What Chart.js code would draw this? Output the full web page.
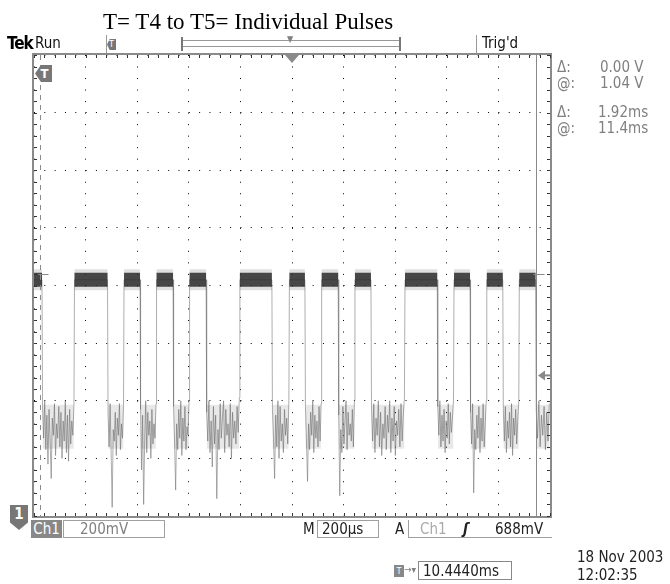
<!DOCTYPE html>
<html>
<head>
<meta charset="utf-8">
<script src="https://cdn.jsdelivr.net/npm/chart.js@4/dist/chart.umd.min.js"></script>
<style>
  body{margin:0;background:#fff;}
  #wrap{position:relative;width:670px;height:584px;overflow:hidden;background:#fff;}
  #c{position:absolute;left:0;top:0;}
  .t{position:absolute;white-space:nowrap;font-family:"DejaVu Sans Condensed","Liberation Sans Narrow","DejaVu Sans",sans-serif;font-stretch:condensed;font-size:15px;line-height:16px;color:#222;}
  .g{color:#808080;}
  .box{position:absolute;border:1px solid #a0a0a0;box-sizing:border-box;}
  .ln{position:absolute;background:#999;}
</style>
</head>
<body>
<div id="wrap">
  <canvas id="c" width="670" height="584"></canvas>

  <div class="t" style="left:103px;top:9px;font:23px 'Liberation Serif','Times New Roman',serif;color:#000;">T= T4 to T5= Individual Pulses</div>

  <div class="t" style="left:7px;top:35px;font-weight:bold;font-size:17px;letter-spacing:-1px;color:#000;">Tek</div>
  <div class="t" style="left:35px;top:35px;color:#111;">Run</div>
  <div class="ln" style="left:106px;top:35px;width:1px;height:18px;"></div>
  <div class="t" style="left:107px;top:39px;width:9px;height:11px;background:#777;color:#fff;font-size:9px;line-height:11px;text-align:center;clip-path:polygon(30% 0,100% 0,100% 100%,30% 100%,0 50%);">T</div>
  <div class="box" style="left:181px;top:40px;width:220px;height:7px;border-color:#999;"></div>
  <div class="ln" style="left:181px;top:37px;width:2px;height:14px;background:#777;"></div>
  <div class="ln" style="left:399px;top:37px;width:2px;height:14px;background:#777;"></div>
  <div class="t g" style="left:287px;top:31px;font-size:9px;">&#9660;</div>
  <div class="ln" style="left:476px;top:35px;width:1px;height:18px;"></div>
  <div class="t" style="left:482px;top:35px;color:#111;">Trig'd</div>

  <div class="t g" style="left:557px;top:59px;">&#916;:</div>
  <div class="t g" style="left:600px;top:59px;">0.00 V</div>
  <div class="t g" style="left:557px;top:75px;">@:</div>
  <div class="t g" style="left:600px;top:75px;">1.04 V</div>
  <div class="t g" style="left:557px;top:104px;">&#916;:</div>
  <div class="t g" style="left:598px;top:104px;">1.92ms</div>
  <div class="t g" style="left:557px;top:120px;">@:</div>
  <div class="t g" style="left:598px;top:120px;">11.4ms</div>

  <div class="t" style="left:35px;top:65px;width:17px;height:17px;background:#777;color:#fff;font-weight:bold;font-size:13px;line-height:17px;text-align:center;padding-left:2px;box-sizing:border-box;clip-path:polygon(35% 0,100% 0,100% 100%,35% 100%,0 50%);">T</div>

  <div class="t" style="left:10px;top:505px;width:18px;height:25px;background:#777;color:#fff;font-weight:bold;font-size:15px;line-height:18px;text-align:center;clip-path:polygon(0 0,100% 0,100% 70%,50% 100%,0 70%);">1</div>
  <div class="t" style="left:31px;top:520px;width:31px;height:18px;background:#888;color:#fff;font-size:15px;line-height:18px;text-align:center;">Ch1</div>
  <div class="box" style="left:63px;top:520px;width:102px;height:18px;"></div>
  <div class="t g" style="left:80px;top:521px;">200mV</div>

  <div class="t" style="left:303px;top:521px;">M</div>
  <div class="box" style="left:317px;top:520px;width:62px;height:18px;"></div>
  <div class="t" style="left:322px;top:521px;">200&#181;s</div>
  <div class="t" style="left:395px;top:521px;">A</div>
  <div class="box" style="left:408px;top:520px;width:144px;height:18px;border-top:none;border-right:none;"></div>
  <div class="t" style="left:420px;top:521px;color:#aaa;">Ch1</div>
  <div class="t" style="left:463px;top:521px;font-weight:bold;font-style:italic;">&#643;</div>
  <div class="t" style="left:495px;top:521px;">688mV</div>

  <div class="t" style="left:394px;top:565px;width:10px;height:12px;background:#888;color:#fff;font-size:9px;line-height:12px;text-align:center;">T</div>
  <div class="t g" style="left:404px;top:562px;font-size:10px;">&#8594;&#9662;</div>
  <div class="box" style="left:418px;top:561px;width:94px;height:19px;border-color:#888;"></div>
  <div class="t" style="left:423px;top:563px;">10.4440ms</div>
  <div class="t" style="left:577px;top:549px;">18 Nov 2003</div>
  <div class="t" style="left:577px;top:567px;">12:02:35</div>
</div>
<script>
// time in microseconds (200us/div), voltage in mV (200mV/div)
const timeMin = 0, timeMax = 2000, timeStep = 200;
const voltMin = 200, voltMax = 1800, voltStep = 200;

const highLevel = 1020;
const lowLevel = 510;
// transitions, alternating fall / rise, starting with a fall
const edgeTimes = [31,157,285,349,411,475,539,603,667,798,922,990,1050,1115,1179,1244,1306,1438,1563,1628,1690,1755,1817,1881,1944];
// noisy low level, sampled across each low stretch (mV)
const lowNoise = [
  [580,470,600,430,550,380,570,460,330,540,480,590,410,520,470,580,440,560,400,530,460,600,420,550,390,570,450,530,480,590],
  [560,440,590,420,230,500,460,560,410,540,480,590,430,520,470,580],
  [570,360,550,240,460,600,420,560,480,530,400,570,450,520,470,590],
  [580,450,290,520,430,570,470,600,410,540,460,580,430,510,480,600],
  [560,460,600,420,530,370,580,450,550,260,500,430,590,470,540,600,420,570,480,520,440,590,400,560,470,530,450,580,490,610],
  [570,470,330,550,440,600,400,580,460,520,420,570,480,540,450,600],
  [580,460,320,520,430,560,480,600,420,550,470,530,440,580,460,590],
  [550,270,500,420,580,450,530,600,430,560,480,520,460,570,440,600],
  [570,460,590,420,540,480,600,440,560,410,520,470,580,430,550,490,600,420,540,460,580,410,530,480,570,440,590,460,550,610],
  [580,480,600,440,550,460,570,420,530,470,590,450,560,490,540,600],
  [560,450,590,280,500,430,550,470,580,420,540,460,590,440,520,600],
  [570,460,580,420,530,470,560,440,590,410,540,480,570,450,530,600],
  [570,470,600,440,550,480,580,430,560,460,590]
];
// cursors and trigger
const cursorT1 = 23, cursorT2 = 1946, cursorV = 1040, trigLevel = 688, trigTime = 1000;

const trace = [{x: timeMin, y: highLevel}];
const highBand = [];
const lowBand = [];
let hiStart = timeMin;
for (let i = 0; i < edgeTimes.length; i += 2) {
  const a = edgeTimes[i];
  const b = i + 1 < edgeTimes.length ? edgeTimes[i + 1] : timeMax;
  highBand.push({x: hiStart, y: highLevel}, {x: a, y: highLevel}, {x: a + 1, y: null});
  lowBand.push({x: a + 3, y: lowLevel}, {x: b - 3, y: lowLevel}, {x: b - 2, y: null});
  trace.push({x: a, y: highLevel});
  const s = lowNoise[i / 2];
  s.forEach((v, k) => trace.push({x: a + (k + 0.5) * (b - a) / s.length, y: v}));
  if (i + 1 < edgeTimes.length) trace.push({x: b, y: highLevel});
  hiStart = b;
}

const scopeDecor = {
  id: 'scopeDecor',
  afterDatasetsDraw(chart) {
    const ctx = chart.ctx, ca = chart.chartArea, xs = chart.scales.x, ys = chart.scales.y;
    ctx.save();
    // frame
    ctx.strokeStyle = '#8a8a8a';
    ctx.lineWidth = 2;
    ctx.strokeRect(ca.left - 1, ca.top - 1, ca.right - ca.left + 2, ca.bottom - ca.top + 2);
    // minor ticks on the frame
    ctx.strokeStyle = '#333';
    ctx.lineWidth = 1;
    ctx.beginPath();
    for (let t = timeMin; t <= timeMax; t += timeStep / 5) {
      const x = Math.round(xs.getPixelForValue(t)) + 0.5;
      ctx.moveTo(x, ca.top); ctx.lineTo(x, ca.top + 3);
      ctx.moveTo(x, ca.bottom); ctx.lineTo(x, ca.bottom - 3);
    }
    for (let v = voltMin; v <= voltMax; v += voltStep / 5) {
      const y = Math.round(ys.getPixelForValue(v)) + 0.5;
      ctx.moveTo(ca.left, y); ctx.lineTo(ca.left + 3, y);
      ctx.moveTo(ca.right, y); ctx.lineTo(ca.right - 3, y);
    }
    ctx.stroke();
    // time cursors
    ctx.strokeStyle = '#8a8a8a';
    const x1 = Math.round(xs.getPixelForValue(cursorT1)) + 0.5;
    const x2 = Math.round(xs.getPixelForValue(cursorT2)) + 0.5;
    ctx.setLineDash([5, 5]);
    ctx.beginPath(); ctx.moveTo(x1, ca.top); ctx.lineTo(x1, ca.bottom); ctx.stroke();
    ctx.setLineDash([]);
    ctx.beginPath(); ctx.moveTo(x2, ca.top); ctx.lineTo(x2, ca.bottom); ctx.stroke();
    const yc = Math.round(ys.getPixelForValue(cursorV)) + 0.5;
    ctx.beginPath();
    ctx.moveTo(x1 - 2, yc); ctx.lineTo(x1 + 8, yc);
    ctx.moveTo(x2 - 3, yc); ctx.lineTo(x2 + 8, yc);
    ctx.stroke();
    // trigger level arrow
    ctx.fillStyle = '#8a8a8a';
    const yt = ys.getPixelForValue(trigLevel);
    ctx.beginPath();
    ctx.moveTo(ca.right - 12, yt); ctx.lineTo(ca.right - 5, yt - 5); ctx.lineTo(ca.right - 5, yt + 5);
    ctx.closePath(); ctx.fill();
    ctx.fillRect(ca.right - 5, yt - 1, 5, 2);
    // trigger position marker
    const xt = xs.getPixelForValue(trigTime);
    ctx.beginPath();
    ctx.moveTo(xt - 7, ca.top); ctx.lineTo(xt + 7, ca.top); ctx.lineTo(xt, ca.top + 8);
    ctx.closePath(); ctx.fill();
    ctx.restore();
  }
};

new Chart(document.getElementById('c'), {
  type: 'line',
  data: {
    datasets: [
      {data: lowBand, borderColor: 'rgba(0,0,0,0.09)', borderWidth: 44, borderCapStyle: 'butt', pointRadius: 0, spanGaps: false},
      {data: highBand, borderColor: 'rgba(0,0,0,0.12)', borderWidth: 21, borderCapStyle: 'butt', pointRadius: 0, spanGaps: false},
      {data: highBand, borderColor: 'rgba(50,50,50,0.85)', borderWidth: 14, borderCapStyle: 'butt', pointRadius: 0, spanGaps: false},
      {data: trace, borderColor: 'rgba(120,120,120,0.6)', borderWidth: 1, pointRadius: 0, tension: 0}
    ]
  },
  options: {
    responsive: false,
    animation: false,
    devicePixelRatio: 1,
    layout: {padding: {left: 34, top: 55, right: 120, bottom: 68}},
    plugins: {legend: {display: false}, tooltip: {enabled: false}, title: {display: false}},
    scales: {
      x: {
        type: 'linear', min: timeMin, max: timeMax,
        ticks: {display: false, stepSize: timeStep},
        grid: {color: '#000', lineWidth: 1, drawTicks: false},
        border: {display: false, dash: [1, 10.52]}
      },
      y: {
        type: 'linear', min: voltMin, max: voltMax,
        ticks: {display: false, stepSize: voltStep},
        grid: {color: '#000', lineWidth: 1, drawTicks: false},
        border: {display: false, dash: [1, 9.32]}
      }
    }
  },
  plugins: [scopeDecor]
});
</script>
</body>
</html>
